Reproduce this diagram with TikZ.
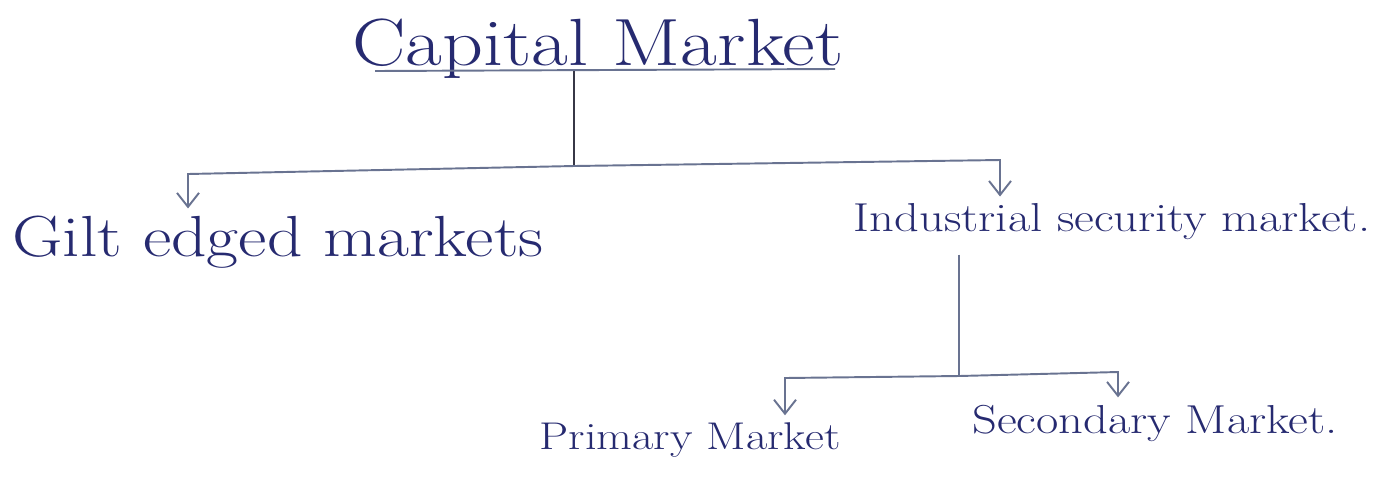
\documentclass[tikz,border=0pt]{standalone}
\usetikzlibrary{arrows.meta}
\definecolor{ink}{RGB}{38,42,112}
\definecolor{pencil}{RGB}{105,115,145}
\definecolor{darkline}{RGB}{55,55,70}
\newcommand{\wide}[1]{\scalebox{1.2}[1]{#1}}
\tikzset{
  label/.style={text=ink, inner sep=2pt, anchor=center},
  conn/.style={draw=pencil, line width=1.1pt},
  stem/.style={draw=darkline, line width=1.4pt},
  tip/.style={-{Straight Barb[length=0.28cm,width=0.44cm,line width=1.1pt]}},
}
\begin{document}
\begin{tikzpicture}[x=0.02cm, y=-0.02cm]
  \useasboundingbox (0,0) rectangle (1378,495);

  % labels
  \node[label, font=\fontsize{38}{42}\selectfont] (cap) at (598,49) {\wide{Capital Market}};
  \node[label, font=\fontsize{33}{38}\selectfont] (gilt) at (278,242) {\wide{Gilt edged markets}};
  \node[label, font=\fontsize{23}{27}\selectfont] (ind) at (1112,222) {\wide{Industrial security market.}};
  \node[label, font=\fontsize{22}{26}\selectfont] (prim) at (690,440) {\wide{Primary Market}};
  \node[label, font=\fontsize{23}{27}\selectfont] (sec) at (1155,423) {\wide{Secondary Market.}};

  % underline of the heading
  \coordinate (ul) at (375,71);
  \coordinate (ur) at (835,69);
  \draw[conn] (ul) -- (ur);

  % junctions and corners
  \coordinate (j1) at (574,166);
  \coordinate (gl) at (188,174);
  \coordinate (ir) at (1000,160);
  \coordinate (j2) at (959,376);
  \coordinate (pl) at (785,378);
  \coordinate (sr) at (1118,372);

  % first level
  \draw[stem] (ul -| j1) -- (j1);
  \draw[conn, tip] (j1) -- (gl) -- ([yshift=2pt]gilt.north -| gl);
  \draw[conn, tip] (j1) -- (ir) -- ([yshift=2pt]ind.north -| ir);

  % second level
  \draw[conn] ([yshift=-6pt]ind.south -| j2) -- (j2);
  \draw[conn, tip] (j2) -- (pl) -- ([yshift=2pt]prim.north -| pl);
  \draw[conn, tip] (j2) -- (sr) -- ([yshift=2pt]sec.north -| sr);
\end{tikzpicture}
\end{document}
